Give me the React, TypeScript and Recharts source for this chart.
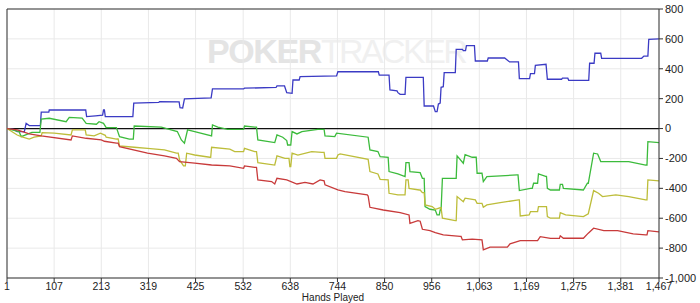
import React from "react";
import {
  LineChart,
  Line,
  XAxis,
  YAxis,
  CartesianGrid,
  ReferenceLine,
} from "recharts";

// [hand, amount] pairs
const NET_WON: [number, number][] = [
  [1, 0], [15, -5], [24, -20], [40, -20], [44, 35], [51, 20], [76, 20], [78, 110], [95, 110], [96, 124],
  [178, 124], [180, 80], [200, 85], [216, 90], [218, 124], [220, 124], [222, 80], [284, 80], [286, 170],
  [342, 175], [344, 180], [388, 178], [390, 140], [396, 138], [400, 198], [460, 205], [463, 265],
  [533, 265], [535, 270], [606, 275], [608, 285], [625, 285], [630, 240], [642, 236], [644, 325],
  [658, 325], [660, 347], [742, 352], [745, 380], [836, 380], [838, 358], [860, 358], [862, 258],
  [878, 252], [880, 240], [885, 229], [896, 229], [898, 343], [937, 343], [939, 151], [960, 151],
  [964, 113], [968, 113], [971, 164], [975, 170], [977, 276], [982, 280], [984, 374], [1009, 374],
  [1011, 530], [1025, 530], [1027, 522], [1032, 522], [1034, 555], [1052, 555], [1054, 452],
  [1081, 452], [1083, 472], [1120, 472], [1131, 446], [1151, 446], [1153, 334], [1176, 334],
  [1178, 367], [1187, 367], [1189, 423], [1213, 430], [1216, 330], [1248, 330], [1250, 337],
  [1262, 337], [1264, 323], [1309, 323], [1311, 437], [1321, 437], [1323, 504], [1336, 504],
  [1338, 470], [1428, 470], [1433, 485], [1442, 485], [1444, 597], [1467, 600],
];

const ALL_IN_EV: [number, number][] = [
  [1, 0], [28, -20], [33, -54], [57, -25], [75, -25], [78, 64], [96, 69], [134, 46], [141, 75],
  [170, 70], [179, 35], [202, 29], [208, 46], [218, 35], [224, 6], [247, 6], [254, -54], [276, -71],
  [285, -71], [287, 17], [348, 9], [384, -20], [393, -76], [400, -98], [407, -9], [423, -20],
  [461, -49], [463, 24], [475, 9], [497, -5], [533, -5], [535, 17], [558, 9], [562, 9], [565, -76],
  [603, -94], [608, -43], [621, -58], [630, -80], [632, -110], [639, -110], [642, -20], [653, -36],
  [664, -20], [700, -5], [714, -5], [716, -49], [738, -54], [742, -31], [813, -58], [817, -143],
  [835, -154], [840, -188], [858, -192], [860, -288], [880, -304], [896, -322], [898, -228],
  [905, -228], [907, -288], [930, -295], [935, -333], [939, -333], [941, -522], [952, -540],
  [964, -545], [968, -578], [973, -578], [975, -545], [977, -545], [980, -333], [1011, -333],
  [1013, -183], [1027, -232], [1031, -175], [1047, -192], [1056, -192], [1058, -299], [1069, -299],
  [1072, -355], [1080, -322], [1148, -310], [1150, -310], [1153, -415], [1178, -400], [1182, -400],
  [1185, -366], [1194, -366], [1196, -304], [1212, -320], [1214, -320], [1216, -400], [1223, -411],
  [1243, -411], [1245, -373], [1250, -373], [1252, -400], [1297, -411], [1306, -366], [1308, -366],
  [1320, -165], [1329, -170], [1336, -221], [1399, -221], [1437, -244], [1440, -244], [1442, -88],
  [1467, -94],
];

const SHOWDOWN: [number, number][] = [
  [1, 0], [24, -43], [33, -54], [51, -70], [62, -58], [78, -49], [80, -27], [107, -31], [145, -43],
  [148, -9], [177, -9], [179, -43], [197, -49], [211, -31], [222, -45], [224, -58], [247, -70],
  [251, -70], [254, -116], [287, -125], [317, -132], [355, -143], [382, -165], [386, -165],
  [389, -210], [398, -250], [402, -250], [405, -165], [423, -177], [457, -192], [459, -192],
  [461, -125], [502, -138], [513, -154], [533, -154], [535, -132], [558, -154], [562, -154],
  [565, -228], [603, -244], [608, -183], [626, -199], [635, -199], [637, -255], [639, -255],
  [642, -165], [655, -177], [686, -154], [709, -160], [714, -160], [716, -199], [742, -199],
  [745, -177], [750, -170], [813, -206], [817, -288], [835, -304], [840, -340], [858, -344],
  [860, -433], [880, -444], [896, -444], [898, -344], [903, -344], [905, -400], [928, -411],
  [930, -411], [935, -429], [939, -429], [941, -511], [957, -522], [964, -540], [975, -530],
  [977, -530], [980, -600], [1009, -616], [1011, -616], [1013, -455], [1027, -489], [1031, -466],
  [1054, -477], [1058, -500], [1069, -500], [1072, -527], [1080, -511], [1110, -496], [1151, -477],
  [1153, -477], [1155, -585], [1175, -578], [1178, -556], [1194, -556], [1196, -522], [1214, -522],
  [1216, -589], [1223, -600], [1243, -600], [1245, -563], [1257, -578], [1297, -589], [1308, -570],
  [1320, -415], [1331, -433], [1340, -455], [1370, -444], [1399, -455], [1437, -477], [1440, -477],
  [1442, -344], [1467, -350],
];

const NON_SHOWDOWN: [number, number][] = [
  [1, 0], [24, -9], [51, -36], [78, -49], [145, -76], [148, -49], [179, -65], [213, -76], [220, -85],
  [247, -98], [251, -98], [254, -121], [317, -165], [355, -183], [382, -199], [389, -221],
  [423, -232], [461, -244], [502, -250], [533, -266], [535, -250], [558, -260], [562, -260],
  [565, -344], [596, -355], [603, -371], [608, -333], [630, -344], [653, -371], [671, -360],
  [689, -371], [705, -344], [714, -350], [716, -377], [745, -411], [761, -422], [811, -444],
  [813, -451], [817, -527], [847, -545], [885, -563], [905, -578], [907, -634], [925, -616],
  [930, -620], [935, -674], [952, -683], [964, -696], [982, -712], [1020, -722], [1022, -722],
  [1025, -745], [1047, -740], [1069, -745], [1072, -812], [1087, -794], [1126, -794], [1132, -772],
  [1155, -750], [1194, -750], [1200, -723], [1223, -735], [1243, -735], [1245, -718], [1252, -734],
  [1297, -734], [1308, -700], [1320, -667], [1343, -683], [1374, -683], [1409, -705], [1437, -712],
  [1440, -712], [1442, -683], [1467, -692],
];

const X_TICKS = [1, 107, 213, 319, 425, 532, 638, 744, 850, 956, 1063, 1169, 1275, 1381, 1467];
const Y_TICKS = [-1000, -800, -600, -400, -200, 0, 200, 400, 600, 800];

const SERIES = [
  { name: "Net Won", points: NET_WON, color: "#3b3bc4" },
  { name: "All-in EV", points: ALL_IN_EV, color: "#3cbb3c" },
  { name: "Showdown", points: SHOWDOWN, color: "#bdbd3a" },
  { name: "Non-showdown", points: NON_SHOWDOWN, color: "#c83a3a" },
];

const FONT = "'Liberation Sans', Arial, sans-serif";
const fmt = (v: number) => v.toLocaleString("en-US");

export default function App() {
  return (
    <div style={{ position: "absolute", left: 0, top: 0, width: 700, height: 303, fontFamily: FONT }}>
      <div
        style={{
          position: "absolute",
          left: 207,
          top: 31,
          fontSize: 34,
          lineHeight: "40px",
          whiteSpace: "nowrap",
          userSelect: "none",
        }}
      >
        <span style={{ fontWeight: 700, color: "#e4e4e4", letterSpacing: -1.4 }}>POKER</span>
        <span style={{ fontWeight: 400, color: "#f0f0f0", letterSpacing: -2.6 }}>TRACKER</span>
      </div>
      <LineChart
        width={700}
        height={303}
        margin={{ top: 9, right: 0, left: 7, bottom: 0 }}
        style={{ position: "absolute", left: 0, top: 0 }}
      >
        <CartesianGrid stroke="#e9e9e9" strokeWidth={1} />
        <XAxis
          dataKey="hand"
          type="number"
          domain={[1, 1467]}
          ticks={X_TICKS}
          interval={0}
          allowDataOverflow
          tickFormatter={fmt}
          height={25}
          tickSize={4}
          tickMargin={1}
          stroke="#333"
          tick={{ fill: "#222", fontSize: 10.5, fontFamily: FONT }}
          label={{
            value: "Hands Played",
            position: "insideBottom",
            offset: 2,
            fill: "#222",
            fontSize: 10,
            fontFamily: FONT,
          }}
        />
        <YAxis
          orientation="right"
          type="number"
          domain={[-1000, 800]}
          ticks={Y_TICKS}
          interval={0}
          allowDataOverflow
          tickFormatter={fmt}
          width={41}
          tickSize={4}
          tickMargin={2}
          stroke="#333"
          tick={{ fill: "#222", fontSize: 11, fontFamily: FONT }}
        />
        <ReferenceLine y={800} stroke="#333" strokeWidth={1} />
        <ReferenceLine x={1} stroke="#333" strokeWidth={1} />
        <ReferenceLine y={0} stroke="#111" strokeWidth={1.2} />
        {SERIES.map((s) => (
          <Line
            key={s.name}
            name={s.name}
            data={s.points.map(([hand, v]) => ({ hand, v }))}
            dataKey="v"
            type="linear"
            stroke={s.color}
            strokeWidth={1.3}
            dot={false}
            activeDot={false}
            isAnimationActive={false}
          />
        ))}
      </LineChart>
    </div>
  );
}
